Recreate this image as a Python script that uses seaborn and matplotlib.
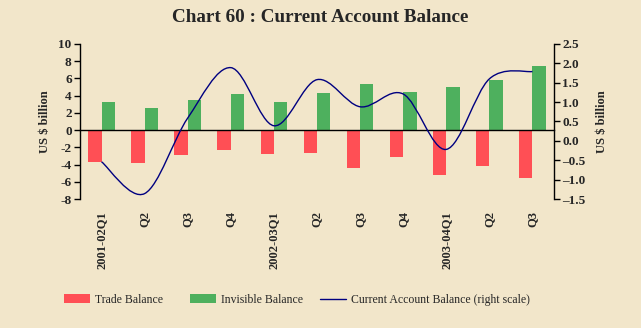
import numpy as np
import pandas as pd
import matplotlib
matplotlib.use("Agg")
import matplotlib.pyplot as plt
from matplotlib.path import Path
from matplotlib.patches import PathPatch
from matplotlib.lines import Line2D
from matplotlib.patches import Patch
import seaborn as sns

# ---------------- data ----------------
quarters = ["2001-02Q1", "2001-02Q2", "2001-02Q3", "2001-02Q4",
            "2002-03Q1", "2002-03Q2", "2002-03Q3", "2002-03Q4",
            "2003-04Q1", "2003-04Q2", "2003-04Q3"]
tick_labels = ["2001-02Q1", "Q2", "Q3", "Q4", "2002-03Q1", "Q2", "Q3", "Q4",
               "2003-04Q1", "Q2", "Q3"]
trade_balance = [-3.7, -3.8, -2.9, -2.3, -2.75, -2.65, -4.4, -3.1, -5.2, -4.15, -5.55]
invisible_balance = [3.25, 2.55, 3.5, 4.2, 3.25, 4.3, 5.35, 4.4, 5.0, 5.8, 7.45]
current_account = [-0.54, -1.36, 0.59, 1.89, 0.39, 1.58, 0.88, 1.21, -0.22, 1.6, 1.79]

left_ticks = [-8, -6, -4, -2, 0, 2, 4, 6, 8, 10]
right_ticks = [-1.5, -1.0, -0.5, 0.0, 0.5, 1.0, 1.5, 2.0, 2.5]

BG = "#F2E6CA"
RED = "#FF4F55"
GREEN = "#4EB05E"
NAVY = "#000080"

sns.set_style("white")
plt.rcParams["font.family"] = ["Liberation Serif", "DejaVu Serif"]

df = pd.DataFrame({
    "quarter": quarters * 2,
    "value": trade_balance + invisible_balance,
    "series": ["Trade Balance"] * len(quarters) + ["Invisible Balance"] * len(quarters),
})

fig = plt.figure(figsize=(6.41, 3.28), dpi=100, facecolor=BG)
ax = fig.add_axes([80 / 641, 1 - 199 / 328, (554 - 80) / 641, (199 - 44) / 328])
ax.set_facecolor(BG)

sns.barplot(data=df, x="quarter", y="value", hue="series", order=quarters,
            hue_order=["Trade Balance", "Invisible Balance"],
            palette=[RED, GREEN], width=0.62, saturation=1, ax=ax,
            legend=False, edgecolor="none", linewidth=0)

ax.set_xlim(-0.5, len(quarters) - 0.5)
ax.set_ylim(-8, 10)
ax.set_yticks(left_ticks)
ax.set_yticklabels([str(t) for t in left_ticks], fontsize=9.5, fontweight="bold")
ax.set_xlabel("")
ax.set_ylabel("US $ billion", fontsize=9, fontweight="bold", labelpad=5)

for s in ["top", "right"]:
    ax.spines[s].set_visible(False)
ax.spines["left"].set_color("black")
ax.spines["left"].set_linewidth(1)
ax.spines["bottom"].set_position(("data", 0))
ax.spines["bottom"].set_color("black")
ax.spines["bottom"].set_linewidth(1)

ax.set_xticks(range(len(quarters)))
ax.set_xticklabels(tick_labels, rotation=90, fontsize=9, fontweight="bold", va="top")
ax.set_xticks(np.arange(0.5, len(quarters) - 1, 1.0), minor=True)
ax.tick_params(axis="x", which="major", length=0, pad=58.5)
ax.tick_params(axis="x", which="minor", length=4, width=1, direction="out", color="black")
ax.tick_params(axis="y", which="major", length=4, width=1, direction="out", color="black", pad=2)

# ---------------- right axis / line ----------------
ax2 = ax.twinx()
ax2.set_ylim(-1.5, 2.5)
ax2.set_yticks(right_ticks)
ax2.set_yticklabels([f"{t:.1f}".replace("-", "\u2013") for t in right_ticks],
                    fontsize=9.5, fontweight="bold")
for s in ["top", "left", "bottom"]:
    ax2.spines[s].set_visible(False)
ax2.spines["right"].set_color("black")
ax2.spines["right"].set_linewidth(1)
ax2.tick_params(axis="y", length=4, width=1, direction="out", color="black", pad=2)
ax2.set_ylabel("US $ billion", fontsize=9, fontweight="bold", rotation=90, labelpad=7.5)

# smoothed line (Catmull-Rom style Bezier through the data points)
xs = np.arange(len(current_account), dtype=float)
ys = np.array(current_account, dtype=float)
pts = np.column_stack([xs, ys])
verts = [pts[0]]
codes = [Path.MOVETO]
n = len(pts)
for i in range(n - 1):
    p0 = pts[i - 1] if i > 0 else pts[i]
    p1 = pts[i]
    p2 = pts[i + 1]
    p3 = pts[i + 2] if i + 2 < n else pts[i + 1]
    c1 = p1 + (p2 - p0) / 6.0
    c2 = p2 - (p3 - p1) / 6.0
    verts += [c1, c2, p2]
    codes += [Path.CURVE4] * 3
ax2.add_patch(PathPatch(Path(verts, codes), facecolor="none", edgecolor=NAVY, lw=1.0))

# ---------------- title ----------------
fig.text(320 / 641, 1 - 17 / 328, "Chart 60 : Current Account Balance",
         ha="center", va="center", fontsize=13.8, fontweight="bold")

# ---------------- legend (three entries placed individually) ----------------
handles = [Patch(facecolor=RED, edgecolor="none"),
           Patch(facecolor=GREEN, edgecolor="none"),
           Line2D([0], [0], color=NAVY, lw=1)]
labels = ["Trade Balance", "Invisible Balance", "Current Account Balance (right scale)"]
starts = [64, 190, 320]
for h, lab, x0 in zip(handles, labels, starts):
    fig.legend([h], [lab], loc="center left", bbox_to_anchor=(x0 / 641, 1 - 300 / 328),
               frameon=False, fontsize=8.5, handlelength=2.2, handleheight=0.8,
               handletextpad=0.4, borderpad=0, borderaxespad=0)

fig.savefig("out.png", dpi=100, facecolor=BG)
